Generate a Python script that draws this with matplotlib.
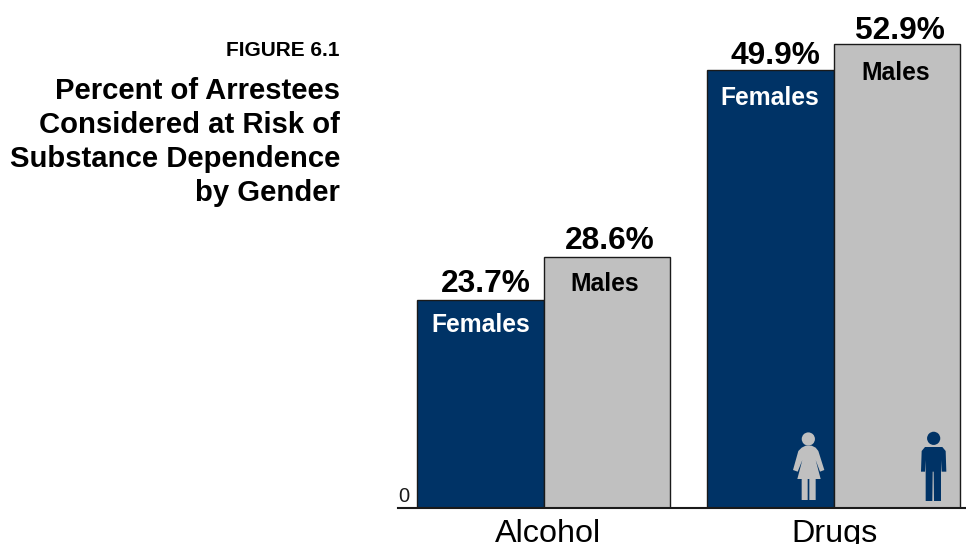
import matplotlib
matplotlib.use("Agg")
import matplotlib.pyplot as plt
from matplotlib.patches import Polygon, Circle
from matplotlib.transforms import Affine2D

plt.rcParams["font.family"] = ["Liberation Sans", "DejaVu Sans"]

categories = ["Alcohol", "Drugs"]
females = [23.7, 49.9]
males = [28.6, 52.9]
positions = [0, 2.29]

navy = "#003366"
gray = "#C0C0C0"

W, H = 966, 544
fig = plt.figure(figsize=(W / 100, H / 100), dpi=100, facecolor="white")
ax = fig.add_axes([398 / W, (H - 508) / H, (W - 398) / W, 508 / H])
ax.set_xlim(-1.154, 3.336)
ax.set_ylim(0, 57.86)
ax.patch.set_alpha(0)

left = [p - 0.5 for p in positions]
right = [p + 0.5 for p in positions]
ax.bar(left, females, width=1, color=navy, edgecolor="#1a1a1a", linewidth=1)
ax.bar(right, males, width=1, color=gray, edgecolor="#1a1a1a", linewidth=1)


def label(x, y, text, dx, dy, size, color):
    ax.annotate(text, (x, y), xytext=(dx, dy), textcoords="offset pixels",
                ha="center", va="center", fontsize=size, fontweight="bold", color=color)


# nudges in pixels, they differ a bit from bar to bar in the original
label(left[0], females[0], "%.1f%%" % females[0], 5, 16, 22.8, "black")
label(right[0], males[0], "%.1f%%" % males[0], 3, 16, 22.8, "black")
label(left[1], females[1], "%.1f%%" % females[1], 5, 14, 22.8, "black")
label(right[1], males[1], "%.1f%%" % males[1], 3, 13, 22.8, "black")
label(left[0], females[0], "Females", 0, -25, 17.7, "white")
label(right[0], males[0], "Males", -3, -27, 17.7, "black")
label(left[1], females[1], "Females", -1, -28, 17.7, "white")
label(right[1], males[1], "Males", -1, -29, 17.7, "black")

for s in ["top", "right", "left"]:
    ax.spines[s].set_visible(False)
ax.spines["bottom"].set_linewidth(1.5)
ax.spines["bottom"].set_color("#1a1a1a")
ax.set_yticks([])
ax.set_xticks([positions[0] + 0.03, positions[1] + 0.01])
ax.set_xticklabels(categories, fontsize=23.3)
ax.tick_params(axis="x", length=0, pad=8)
ax.text(-1.067, 0.25, "0", ha="right", va="bottom", fontsize=14.5, color="#1a1a1a")

# title block on the left
fig.text(340 / W, 1 - 50 / H, "FIGURE 6.1", ha="right", va="center",
         fontsize=15, fontweight="bold")
title = ["Percent of Arrestees", "Considered at Risk of", "Substance Dependence", "by Gender"]
for n, line in enumerate(title):
    fig.text(340 / W, 1 - (91 + n * 34) / H, line, ha="right", va="center",
             fontsize=21.1, fontweight="bold")

px = Affine2D().scale(1, -1).translate(0, H)

woman = [(50, 68), (62, 62), (80, 62), (92, 68), (100, 78), (118, 135), (105, 140), (92, 105),
         (107, 162), (92, 162), (92, 225), (73, 225), (73, 162), (68, 162), (68, 225), (50, 225),
         (50, 162), (37, 162), (52, 105), (38, 140), (24, 135), (40, 78)]
man = [(60, 66), (112, 66), (122, 78), (124, 140), (110, 140), (108, 105), (108, 228), (87, 228),
       (86, 140), (83, 140), (82, 228), (62, 228), (62, 105), (60, 140), (48, 140), (50, 78)]


def person(points, x0, head, color):
    pts = [(x0 + x / 3, 425 + y / 3) for x, y in points]
    fig.add_artist(Polygon(pts, closed=True, facecolor=color, edgecolor="none", transform=px))
    fig.add_artist(Circle((x0 + head[0] / 3, 425 + head[1] / 3), 6.6, facecolor=color,
                          edgecolor="none", transform=px))


person(woman, 785, (70, 42), gray)
person(man, 905, (86, 40), navy)

fig.savefig("out.png", dpi=100)
